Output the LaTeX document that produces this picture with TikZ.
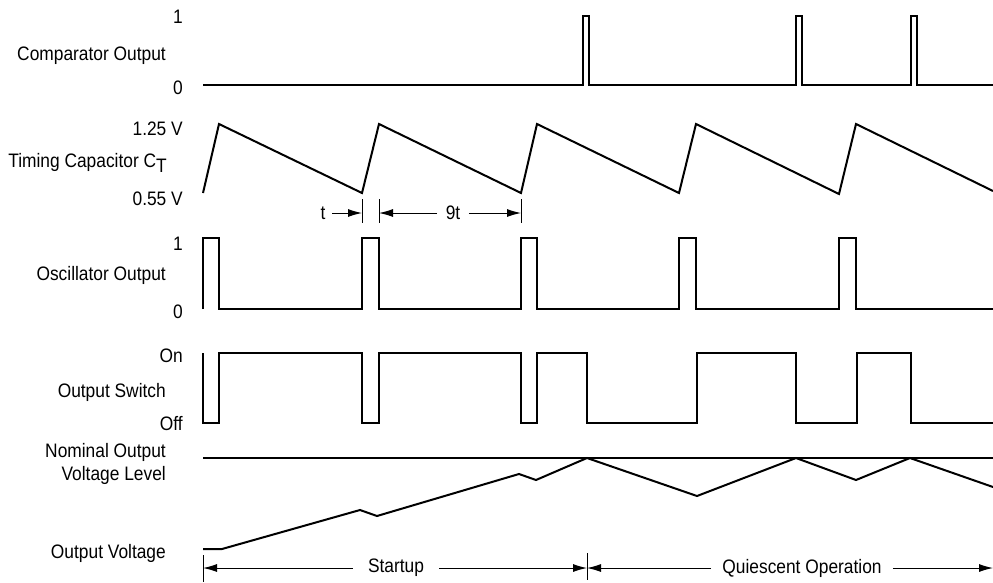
\documentclass[tikz,border=0pt]{standalone}
\usepackage{fontspec}
\setmainfont[FakeStretch=0.89]{Liberation Sans}
\usetikzlibrary{arrows.meta}

\begin{document}
\begin{tikzpicture}[x=1pt,y=-1pt,
    wave/.style={line width=2pt, line join=miter},
    dim/.style={line width=1pt},
    tip/.style={-{Latex[length=14pt,width=8pt]}},
    lvl/.style={anchor=base east, inner sep=0pt, font=\fontsize{19.5}{23}\selectfont},
    dimlbl/.style={inner sep=7.5pt, font=\fontsize{19.5}{23}\selectfont}]
  \useasboundingbox (0,0) rectangle (993,582);

  % Comparator Output
  \node[lvl] (cmpHi) at (183,23) {1};
  \node[lvl] (cmpName) at (166,60) {Comparator Output};
  \node[lvl] (cmpLo) at (183,94) {0};
  \draw[wave] (203,85) -- (583,85) -- (583,16) -- (589,16) -- (589,85)
    -- (796,85) -- (796,16) -- (802,16) -- (802,85)
    -- (911,85) -- (911,16) -- (917,16) -- (917,85) -- (993,85);

  % Timing Capacitor
  \node[lvl] (capHi) at (183,135) {1.25 V};
  \node[lvl] (capName) at (167,167) {Timing Capacitor C\raisebox{-5pt}{T}};
  \node[lvl] (capLo) at (183,205) {0.55 V};
  \draw[wave] (203,193) -- (219,124) -- (362,193) -- (379,124) -- (521,193)
    -- (537,124) -- (679,193) -- (696,124) -- (839,194) -- (856,124) -- (993,191);

  % t and 9t
  \draw[dim] (362,199) -- (362,223);
  \draw[dim] (379,199) -- (379,223);
  \draw[dim] (521,199) -- (521,223);
  \coordinate (ta) at (362,213);
  \coordinate (tb) at (379,213);
  \coordinate (tc) at (521,213);
  \node[dimlbl,inner sep=6.5pt] (tl) at (323,213) {t};
  \node[dimlbl,inner sep=8.5pt] (nl) at (453,213) {9t};
  \draw[dim,tip] (tl) -- (ta);
  \draw[dim,tip] (nl) -- (tb);
  \draw[dim,tip] (nl) -- (tc);

  % Oscillator Output
  \node[lvl] (oscHi) at (183,250) {1};
  \node[lvl] (oscName) at (166,280) {Oscillator Output};
  \node[lvl] (oscLo) at (183,318) {0};
  \draw[wave] (203,309) -- (203,238) -- (219,238) -- (219,309)
    -- (362,309) -- (362,238) -- (379,238) -- (379,309)
    -- (521,309) -- (521,238) -- (537,238) -- (537,309)
    -- (679,309) -- (679,238) -- (696,238) -- (696,309)
    -- (839,309) -- (839,238) -- (856,238) -- (856,309) -- (993,309);

  % Output Switch
  \node[lvl] (swOn) at (183,362) {On};
  \node[lvl] (swName) at (166,397) {Output Switch};
  \node[lvl] (swOff) at (183,430) {Off};
  \draw[wave] (203,353) -- (203,423) -- (219,423) -- (219,353)
    -- (362,353) -- (362,423) -- (379,423) -- (379,353)
    -- (521,353) -- (521,423) -- (537,423) -- (537,353)
    -- (587,353) -- (587,423) -- (697,423) -- (697,353)
    -- (796,353) -- (796,423) -- (857,423) -- (857,353)
    -- (911,353) -- (911,423) -- (993,423);

  % Output Voltage
  \node[lvl,anchor=east,align=right] (nomName) at (166,464) {Nominal Output\\Voltage Level};
  \node[lvl] (outName) at (166,558) {Output Voltage};
  \draw[wave] (203,458) -- (993,458);
  \draw[wave] (203,549) -- (222,549) -- (360,510) -- (377,516) -- (519,474)
    -- (536,480) -- (587,458) -- (697,496) -- (796,458) -- (856,480)
    -- (910,458) -- (993,487);

  % Startup and Quiescent Operation
  \draw[dim] (203,555) -- (203,582);
  \draw[dim] (587,553) -- (587,580);
  \coordinate (sa) at (203,568);
  \coordinate (sb) at (587,568);
  \coordinate (qe) at (993,568);
  \node[dimlbl,inner sep=15pt] (stl) at (396,568) {Startup};
  \node[dimlbl,inner sep=11pt] (qul) at (802,568) {Quiescent Operation};
  \draw[dim,tip] (stl) -- (sa);
  \draw[dim,tip] (stl) -- (sb);
  \draw[dim,tip] (qul) -- (sb);
  \draw[dim,tip] (qul) -- (qe);
\end{tikzpicture}
\end{document}
